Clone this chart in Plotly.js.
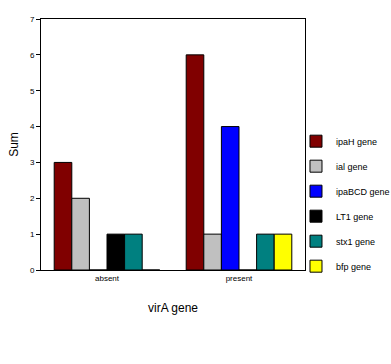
<!DOCTYPE html>
<html><head><meta charset="utf-8">
<script src="https://cdn.plot.ly/plotly-3.0.1.min.js"></script>
<style>body{margin:0;background:#fff}#c{width:391px;height:364px}</style>
</head><body><div id="c"></div>
<script>
const categories = ["absent", "present"];
const seriesNames = ["ipaH gene", "ial gene", "ipaBCD gene", "LT1 gene", "stx1 gene", "bfp gene"];
const ipaH = [3, 6];
const ial = [2, 1];
const ipaBCD = [0, 4];
const LT1 = [1, 0];
const stx1 = [1, 1];
const bfp = [0, 1];
const colors = ["#800000", "#C0C0C0", "#0000FF", "#000000", "#008080", "#FFFF00"];
const values = [ipaH, ial, ipaBCD, LT1, stx1, bfp];

const traces = values.map((v, i) => ({
  type: "bar", x: categories, y: v, name: seriesNames[i],
  legendgroup: "g" + i,
  marker: {color: colors[i], line: {color: "#000000", width: 1}}
}));

const font = "Liberation Sans, Arial, sans-serif";
const layout = {
  width: 391, height: 364,
  margin: {l: 41, r: 86, t: 19, b: 94, autoexpand: false},
  paper_bgcolor: "#fff", plot_bgcolor: "#fff",
  barmode: "group", bargap: 0.2, bargroupgap: 0,
  font: {family: font, size: 9, color: "#000"},
  xaxis: {
    showline: true, mirror: true, linecolor: "#000", linewidth: 1,
    ticks: "", tickfont: {size: 8}, showgrid: false,
    title: {text: "virA gene", font: {size: 12}, standoff: 22}
  },
  yaxis: {
    range: [0, 7], dtick: 1, showline: true, mirror: true, linecolor: "#000", linewidth: 1,
    ticks: "outside", ticklen: 4, tickcolor: "#000", tickfont: {size: 8},
    showgrid: false, zeroline: false,
    title: {text: "Sum", font: {size: 12}, standoff: 8}
  },
  legend: {
    xref: "container", yref: "container",
    x: 0.757, xanchor: "left", y: 0.652, yanchor: "top",
    font: {size: 9}, traceorder: "grouped", tracegroupgap: 6,
    bgcolor: "rgba(0,0,0,0)"
  }
};
Plotly.newPlot("c", traces, layout, {displayModeBar: false, staticPlot: true});
</script></body></html>
